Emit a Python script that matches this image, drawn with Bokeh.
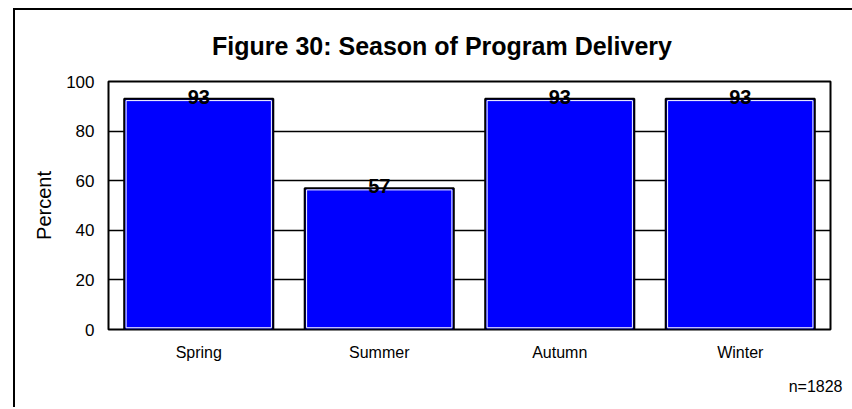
from bokeh.plotting import figure
from bokeh.models import ColumnDataSource, LabelSet, Title, FixedTicker, Div
from bokeh.layouts import column
from bokeh.core.properties import value
from bokeh.embed import file_html
from bokeh.resources import INLINE

seasons = ["Spring", "Summer", "Autumn", "Winter"]
percent = [93, 57, 93, 93]
value_labels = ["93", "57", "93", "93"]
y_ticks = [0, 20, 40, 60, 80, 100]
title_text = "Figure 30: Season of Program Delivery"
n_text = "n=1828"

FONT = "Liberation Sans"

src = ColumnDataSource(dict(x=seasons, top=percent, label=value_labels,
                            inner_top=[v - 0.7 for v in percent]))

title_div = Div(text=title_text, width=829, height=40,
                styles={"font-family": FONT, "font-size": "25px",
                        "font-weight": "bold", "color": "black",
                        "text-align": "center", "padding-top": "17px",
                        "padding-left": "15px", "line-height": "29px",
                        "box-sizing": "border-box"})

p = figure(x_range=seasons, y_range=(0, 100), width=829, height=347,
           output_backend="svg", toolbar_location=None,
           min_border_left=93, min_border_right=14, min_border_top=21,
           min_border_bottom=78)

p.vbar(x="x", top="top", bottom=0, width=0.826, source=src,
       fill_color="#0000ff", line_color="black", line_width=2)
p.vbar(x="x", top="inner_top", bottom=0.7, width=0.805, source=src,
       fill_color=None, line_color="white", line_width=1)

labels = LabelSet(x="x", y="top", text="label", source=src,
                  text_align="center", text_baseline="middle",
                  text_font_size=value("20px"), text_font_style="bold",
                  text_color="black", text_font=value(FONT), y_offset=2)
p.add_layout(labels)

p.outline_line_color = "black"
p.outline_line_width = 2
p.xgrid.grid_line_color = None
p.ygrid.grid_line_color = "black"
p.ygrid.grid_line_width = 1.5
p.yaxis.ticker = FixedTicker(ticks=y_ticks)

for ax in (p.xaxis[0], p.yaxis[0]):
    ax.axis_line_color = None
    ax.major_tick_line_color = None
    ax.minor_tick_line_color = None
    ax.major_label_text_font = FONT
    ax.major_label_text_color = "black"

p.yaxis.major_label_text_font_size = "17px"
p.yaxis.major_label_standoff = 8
p.xaxis.major_label_text_font_size = "16px"
p.xaxis.major_label_standoff = 8
p.yaxis.axis_label = "Percent"
p.yaxis.axis_label_text_font = FONT
p.yaxis.axis_label_text_font_size = "20px"
p.yaxis.axis_label_text_font_style = "normal"
p.yaxis.axis_label_text_color = "black"
p.yaxis.axis_label_standoff = 8

p.add_layout(Title(text=n_text, align="right", offset=-12, text_font=FONT,
                   text_font_size="16px", text_font_style="normal",
                   text_color="black", standoff=25), "below")

layout = column(title_div, p, spacing=0)
layout.styles = {"margin-left": "13px", "margin-top": "8px",
                 "border-left": "2px solid black",
                 "border-top": "2px solid black"}

open("out.html", "w").write(file_html(layout, INLINE))
